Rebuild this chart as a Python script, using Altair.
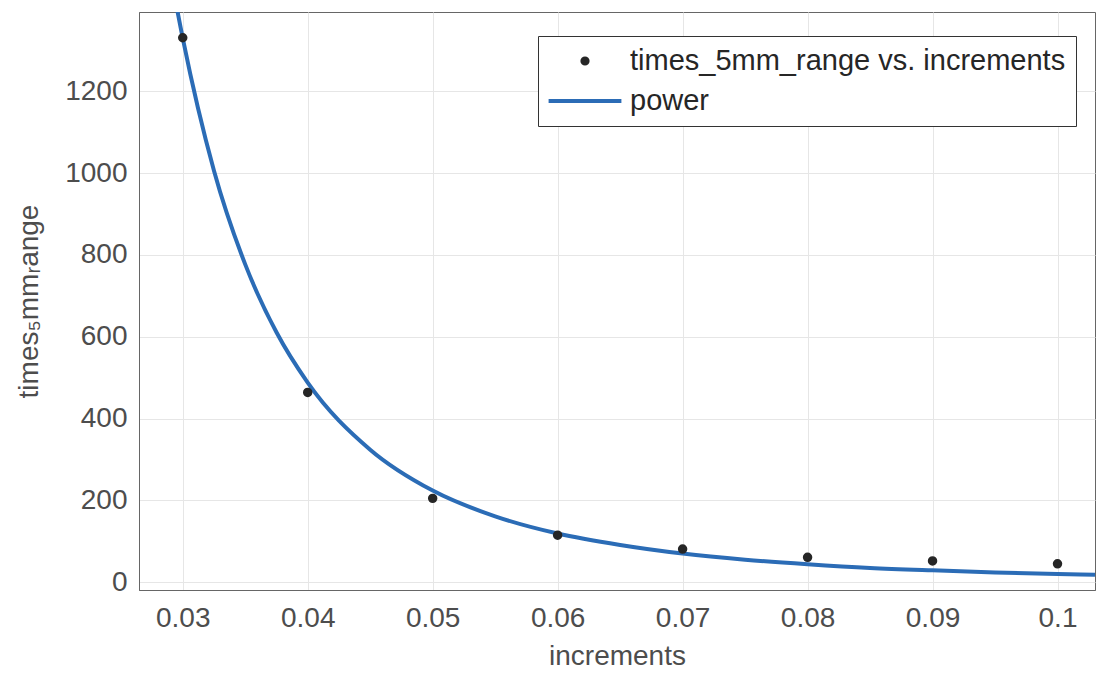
import altair as alt
import pandas as pd

# Measured data points
increments = [0.03, 0.04, 0.05, 0.06, 0.07, 0.08, 0.09, 0.10]
times_5mm_range = [1331, 464, 205, 115, 81, 61, 52, 45]

# Fitted "power" curve
curve_x = [0.0290, 0.0300, 0.0325, 0.0350, 0.0375, 0.0400, 0.0450, 0.0500, 0.0550,
           0.0600, 0.0650, 0.0700, 0.0750, 0.0800, 0.0850, 0.0900, 0.0950, 0.1000, 0.1030]
curve_y = [1490, 1330, 1006, 777, 611, 488, 324, 224, 161,
           119, 91, 70, 55, 44, 35, 29, 24, 20, 18]

series_names = ["times_5mm_range vs. increments", "power"]
x_ticks = [0.03, 0.04, 0.05, 0.06, 0.07, 0.08, 0.09, 0.10]
y_ticks = [0, 200, 400, 600, 800, 1000, 1200]

BLUE = "#2b6cb6"
DARK = "#262626"
CIRCLE_PATH = "M-0.2,0A0.2,0.2 0 1,0 0.2,0A0.2,0.2 0 1,0 -0.2,0Z"
LINE_PATH = "M-2.8,0L2.8,0"
FONT = "Liberation Sans"

pts = pd.DataFrame({"x": increments, "y": times_5mm_range,
                    "series": series_names[0]})
crv = pd.DataFrame({"x": curve_x, "y": curve_y})

xscale = alt.Scale(domain=[0.0265, 0.103], nice=False, zero=False)
yscale = alt.Scale(domain=[-19, 1394], nice=False, zero=False)

xaxis = alt.Axis(values=x_ticks, format="~g", title="increments", grid=True,
                 tickSize=0, labelPadding=14, titlePadding=10)
yaxis = alt.Axis(values=y_ticks, format="d", title="times₅mmᵣange", grid=True,
                 tickSize=0, labelPadding=12, titlePadding=21)

line = alt.Chart(crv).mark_line(color=BLUE, strokeWidth=4, clip=True,
                                interpolate="monotone").encode(
    x=alt.X("x:Q", scale=xscale, axis=xaxis),
    y=alt.Y("y:Q", scale=yscale, axis=yaxis),
)

legend = alt.Legend(title=None, orient="none", legendX=399, legendY=24,
                    symbolOpacity=1)
cscale = alt.Scale(domain=series_names, range=[DARK, BLUE])

points = alt.Chart(pts).mark_point(filled=True, size=1400, strokeWidth=2,
                                   opacity=1, clip=True).encode(
    x=alt.X("x:Q", scale=xscale),
    y=alt.Y("y:Q", scale=yscale),
    color=alt.Color("series:N", scale=cscale, legend=legend),
    stroke=alt.Stroke("series:N", scale=cscale, legend=legend),
    shape=alt.Shape("series:N", scale=alt.Scale(domain=series_names,
                                                range=[CIRCLE_PATH, LINE_PATH]),
                    legend=legend),
)

chart = alt.layer(line, points).properties(
    width=956, height=578,
    autosize=alt.AutoSizeParams(type="none"),
    padding={"left": 139, "top": 12, "right": 1, "bottom": 86},
).configure_view(
    stroke="#666666", strokeWidth=1
).configure_axis(
    labelFont=FONT, titleFont=FONT, labelFontSize=28, titleFontSize=28,
    labelColor="#4d4d4d", titleColor="#4d4d4d", titleFontWeight="normal",
    gridColor="#e6e6e6", gridWidth=1, domainColor="#666666",
).configure_legend(
    labelFont=FONT, labelFontSize=29, labelColor=DARK, symbolSize=676,
    symbolStrokeWidth=4, strokeColor="#333333", fillColor="white",
    padding=10, rowPadding=10, symbolOffset=22, labelOffset=30, cornerRadius=0,
    labelLimit=600,
)

chart.save("out.html", embed_options={"renderer": "svg", "actions": False})
